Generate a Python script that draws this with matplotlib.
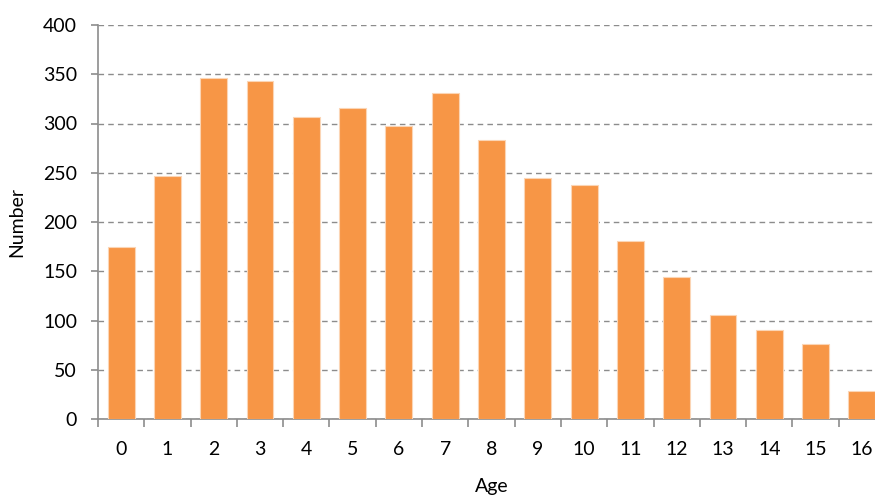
import matplotlib
matplotlib.use("Agg")
import matplotlib.pyplot as plt
import numpy as np

# values
ages = list(range(17))
counts = [175, 247, 346, 343, 307, 316, 297, 331, 283, 245, 238, 181, 144, 106, 90, 76, 28]
y_ticks = [0, 50, 100, 150, 200, 250, 300, 350, 400]

plt.rcParams['font.family'] = ['Lato', 'DejaVu Sans']

fig = plt.figure(figsize=(8.75, 4.97), dpi=100)
ax = fig.add_axes([98 / 875, 78 / 497, 787 / 875, 394 / 497])

x = np.arange(len(ages))
ax.bar(x, counts, width=0.58, color='#F79646', edgecolor='#FBD5B5', linewidth=0.8, zorder=3)

ax.set_xlim(-0.5, len(ages) - 0.5)
ax.set_ylim(0, 400)
ax.set_yticks(y_ticks)
ax.set_xticks(x)
ax.set_xticklabels([str(a) for a in ages])
ax.set_xticks(np.arange(-0.5, len(ages)), minor=True)

ax.yaxis.grid(True, linestyle=(0, (4, 3)), color='#8C8C8C', linewidth=1.0, zorder=0)
ax.set_axisbelow(True)

for s in ['top', 'right']:
    ax.spines[s].set_visible(False)
for s in ['left', 'bottom']:
    ax.spines[s].set_color('#8C8C8C')
    ax.spines[s].set_linewidth(1.2)

ax.tick_params(axis='x', which='major', length=0, pad=16, labelsize=14)
ax.tick_params(axis='x', which='minor', length=6, color='#8C8C8C', width=1.2)
ax.tick_params(axis='y', length=5, color='#8C8C8C', width=1.2, pad=10, labelsize=14)

ax.set_xlabel('Age', fontsize=14, labelpad=14)
ax.set_ylabel('Number', fontsize=14, labelpad=13)

fig.savefig('out.png', dpi=100)
